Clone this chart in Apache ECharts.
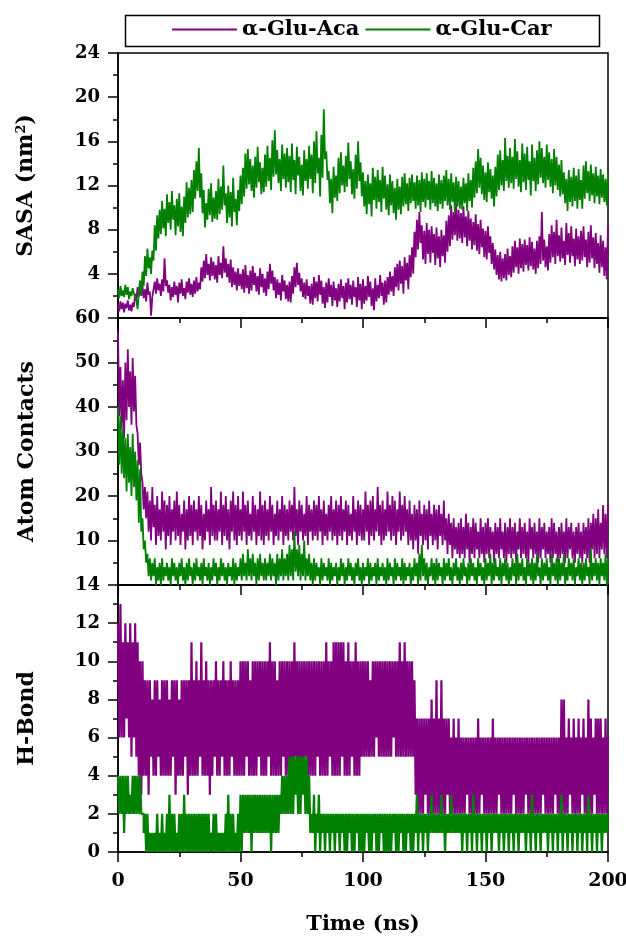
<!DOCTYPE html>
<html>
<head>
<meta charset="utf-8">
<title>SASA / Atom Contacts / H-Bond</title>
<script src="https://cdn.jsdelivr.net/npm/echarts@6/dist/echarts.min.js"></script>
<style>
  html, body { margin: 0; padding: 0; background: #fff; }
  #chart { width: 626px; height: 937px; }
</style>
</head>
<body>
<div id="chart"></div>
<script>
// sampled every 0.5 ns, 0..200 ns
const TIME_MAX = 200;

const seriesNames = ["α-Glu-Aca", "α-Glu-Car"];

const sasaAca = [
  1.2,0.6,1.5,0.8,1.4,0.5,1.3,0.9,1.6,0.7,1.2,0.6,1.4,1.0,2.2,1.6,2.8,1.9,3.1,2.0,
  2.9,1.8,2.6,1.5,3.2,2.1,2.4,0.2,1.9,2.6,3.3,2.2,3.6,2.5,3.1,2.0,3.5,2.4,5.4,2.9,
  3.4,2.3,3.0,1.6,2.8,1.9,3.3,2.1,2.9,1.4,3.2,2.2,3.5,2.0,2.7,1.7,3.3,2.3,3.6,2.1,
  3.1,1.9,3.4,2.2,3.7,2.4,3.2,2.6,4.6,3.3,5.2,3.6,5.8,3.9,4.9,3.4,5.5,3.8,5.1,3.5,
  4.8,3.2,5.6,3.9,5.0,3.6,6.5,4.1,5.4,3.7,4.9,3.2,5.3,2.8,4.6,3.0,4.2,2.5,4.5,2.9,
  4.0,2.6,4.4,2.3,4.8,2.7,3.9,2.2,4.3,2.5,4.7,3.0,4.1,2.4,3.8,2.1,4.5,2.8,4.0,2.3,
  3.6,2.0,4.2,2.6,4.9,3.1,4.3,2.5,3.7,1.8,3.5,2.1,3.2,1.6,3.9,2.4,3.4,1.7,3.0,1.5,
  3.3,1.4,3.8,2.2,4.6,2.8,5.0,3.0,4.1,2.4,3.6,1.9,3.2,1.7,3.5,2.0,2.9,1.3,3.1,1.2,
  3.7,1.8,3.3,1.5,3.9,2.1,3.4,1.3,2.8,0.9,3.2,1.4,3.6,1.9,3.0,1.1,3.3,1.6,2.7,1.0,
  3.1,1.5,3.5,1.8,2.9,0.8,3.2,1.4,3.6,1.7,3.0,1.2,3.4,1.9,2.8,1.0,3.7,1.6,3.1,0.8,
  3.5,1.3,2.9,1.6,3.8,1.9,3.3,1.1,2.7,0.7,3.6,1.5,3.0,1.8,3.9,2.0,3.2,1.2,3.4,1.4,
  3.7,2.1,4.2,2.4,3.8,2.0,4.6,2.8,4.9,2.5,5.2,3.1,4.7,2.2,5.5,3.4,5.0,2.6,5.7,3.7,
  6.4,4.0,7.8,5.5,8.9,6.2,9.6,6.8,8.4,5.3,7.9,4.9,8.6,5.8,8.0,5.0,8.3,5.9,7.6,4.8,
  8.2,5.4,7.4,4.6,8.0,5.6,7.5,5.0,8.8,6.0,9.3,6.5,10.2,7.1,9.6,7.5,10.4,7.0,9.8,7.2,
  9.5,6.8,10.1,7.3,9.2,6.5,9.7,7.0,9.0,6.2,8.7,6.6,9.4,6.1,8.5,5.8,8.9,6.4,8.1,5.5,
  7.9,5.3,8.3,5.9,7.4,4.9,6.8,4.4,6.2,3.9,5.7,3.5,6.0,3.3,5.4,3.6,5.8,3.4,6.3,3.9,
  5.6,3.7,6.5,4.1,7.0,4.6,6.4,4.0,7.2,4.5,6.7,4.2,7.1,4.8,6.6,4.3,7.3,4.7,6.9,4.4,
  6.3,4.0,7.0,4.5,7.4,4.9,9.6,5.2,7.1,4.6,6.5,4.3,7.6,5.0,8.4,5.5,7.8,4.9,8.9,5.6,
  7.5,5.1,8.2,5.4,7.0,4.8,8.6,5.7,7.7,5.0,8.3,5.6,7.2,4.7,8.1,5.3,7.4,4.9,7.9,5.2,
  8.3,5.5,7.1,4.6,7.8,5.0,8.4,5.4,7.3,4.5,7.7,4.9,6.8,4.1,7.5,4.6,7.0,3.8,6.4,3.5,
  8.3
];

const sasaCar = [
  2.6,1.8,2.9,2.0,2.5,1.9,3.0,2.1,2.8,1.7,2.4,2.0,2.7,2.2,2.3,1.6,0.8,2.4,3.4,2.1,
  4.2,2.9,5.6,3.8,6.3,4.5,5.5,4.0,6.1,5.2,8.4,6.1,9.3,7.2,9.8,7.6,10.6,8.1,9.9,7.4,
  11.2,8.6,10.5,8.0,11.5,8.9,10.2,7.5,10.8,8.3,11.3,7.8,10.1,7.4,11.0,8.6,12.3,9.1,11.8,9.4,
  12.5,9.6,13.4,10.8,14.2,11.5,15.4,10.9,13.1,9.5,11.6,8.2,10.4,8.9,11.7,9.3,12.2,8.7,10.9,9.0,
  11.5,8.9,12.6,9.4,11.9,9.8,13.8,10.2,11.3,8.6,12.0,9.1,11.4,8.3,12.7,9.6,10.8,8.4,11.6,9.7,
  12.9,10.3,13.6,11.0,14.9,11.7,15.3,12.1,14.4,11.5,13.8,10.9,14.6,11.8,15.5,12.3,14.1,11.2,13.6,11.4,
  14.8,11.9,15.6,12.4,14.5,11.6,16.1,12.8,17.0,13.0,15.2,12.2,14.4,11.5,15.7,12.6,14.9,11.8,15.4,12.3,
  14.7,11.4,15.8,12.5,14.3,11.2,15.5,12.9,14.6,11.5,13.9,11.1,15.2,12.4,14.4,11.7,15.6,12.6,14.8,11.3,
  16.0,12.2,16.9,13.1,14.5,11.0,16.6,12.7,18.9,14.4,15.1,12.5,13.3,10.4,12.6,9.5,13.7,10.9,12.9,10.6,
  14.5,11.3,15.0,12.0,13.8,11.4,14.7,11.9,15.9,12.6,14.2,11.2,13.5,10.8,14.8,11.7,16.0,12.4,14.1,11.0,
  13.2,10.1,12.4,9.4,13.0,10.3,12.2,9.2,13.6,10.7,12.8,9.9,13.4,10.5,12.5,9.6,13.7,10.8,12.9,9.8,
  12.1,9.3,13.0,10.2,12.4,9.5,11.8,8.9,12.6,9.8,11.9,9.4,12.8,10.1,13.1,10.3,12.2,9.7,12.7,10.4,
  13.0,10.6,12.3,9.9,12.9,10.2,12.5,9.6,13.2,10.5,12.6,10.0,13.1,10.7,12.4,9.8,13.3,10.4,12.7,10.1,
  12.2,9.7,13.0,10.3,12.5,9.9,12.9,10.6,13.4,10.2,12.6,9.8,13.1,10.5,12.3,9.6,12.8,10.1,12.4,9.9,
  11.9,9.8,12.7,10.4,12.2,9.7,13.1,10.6,12.5,10.0,13.6,10.9,14.2,11.3,15.3,11.8,14.5,11.2,13.8,10.7,
  13.2,10.5,14.1,11.4,13.5,10.8,12.9,10.1,13.7,11.0,14.8,11.6,15.2,12.0,14.3,11.5,16.3,12.4,14.7,11.8,
  15.4,12.2,14.6,11.7,16.2,12.6,15.1,11.9,14.3,11.4,15.8,12.3,14.9,11.6,15.5,12.5,14.2,11.1,15.7,12.4,
  14.5,11.5,15.2,12.1,16.0,12.7,15.4,12.2,14.6,11.8,15.7,12.5,15.0,11.9,14.4,11.3,15.3,12.0,14.6,11.6,
  13.9,11.0,14.3,11.2,13.2,10.4,12.6,9.7,13.4,10.5,12.8,10.1,13.6,10.6,12.9,9.9,13.5,10.7,12.5,9.9,
  13.8,10.8,14.2,11.3,13.3,10.6,13.9,11.1,13.1,10.4,13.7,11.0,12.9,10.3,13.5,10.9,13.0,10.5,12.6,10.2,
  13.2
];

const contactAca = [
  57,38,49,35,46,33,50,37,53,40,48,36,51,39,47,36,34,27,32,25,
  23,17,22,15,21,12,19,10,22,13,18,9,20,11,17,10,21,12,19,8,
  18,11,20,9,17,12,19,10,21,11,18,9,16,12,19,8,17,10,20,11,
  18,9,19,12,17,10,20,11,18,8,16,10,19,12,17,9,22,11,18,10,
  19,10,17,12,21,9,18,11,20,10,17,8,19,12,21,10,18,9,20,11,
  17,10,21,12,18,9,19,11,16,10,20,12,18,9,17,11,21,10,18,9,
  19,11,17,10,20,12,18,9,16,11,19,10,17,12,20,9,18,11,17,10,
  19,12,18,10,22,11,17,9,19,12,18,10,16,11,20,9,18,12,17,10,
  19,11,18,10,20,12,17,9,19,11,16,10,18,12,20,10,17,11,19,9,
  18,11,20,10,17,12,19,9,18,11,16,10,20,12,17,9,19,11,18,10,
  17,10,21,12,18,9,19,11,20,10,17,12,22,11,18,9,19,10,17,11,
  21,12,18,10,20,11,19,9,17,12,21,10,18,11,20,12,17,9,19,10,
  16,8,18,10,17,7,19,11,16,9,18,10,17,8,19,11,16,9,18,10,
  17,8,18,11,16,9,19,10,15,7,16,9,14,6,15,8,13,7,14,6,
  15,7,13,6,16,8,14,5,13,7,15,6,14,8,12,6,15,7,13,5,
  14,7,15,6,13,8,12,5,14,7,13,6,15,8,12,6,14,5,13,7,
  15,6,13,7,14,5,12,8,15,6,13,7,14,6,12,5,15,8,13,6,
  14,7,12,5,15,6,13,8,14,6,12,7,13,5,15,6,14,7,12,5,
  13,6,14,7,12,5,15,6,13,8,14,6,12,5,13,7,14,6,12,5,
  14,7,13,6,15,5,14,8,16,6,15,7,17,6,14,8,18,7,16,6,
  18
];

const contactCar = [
  40,27,38,25,35,24,33,21,34,23,31,20,34,22,30,19,28,14,26,12,
  15,8,10,5,7,2,6,1,5,2,6,0,4,1,5,0,6,1,4,2,
  5,1,4,0,6,2,5,1,4,0,5,2,6,1,4,0,5,1,6,2,
  4,0,5,1,6,2,4,1,5,0,6,2,4,1,5,0,4,1,6,2,
  5,0,4,1,6,2,5,1,4,0,5,2,4,1,6,0,5,1,4,2,
  6,1,7,2,5,1,8,2,6,1,7,2,5,0,6,1,7,2,5,1,
  6,1,5,2,7,1,6,2,5,0,7,1,6,2,8,1,6,2,7,1,
  9,2,8,1,12,3,8,2,9,1,7,2,10,1,6,2,7,1,5,0,
  6,1,5,2,4,0,6,1,5,2,4,1,6,0,5,1,4,2,5,0,
  4,1,6,2,5,0,4,1,6,2,5,1,4,0,5,2,6,1,4,0,
  5,1,4,2,6,0,5,1,4,2,5,0,6,1,4,2,5,1,4,0,
  6,1,5,2,4,0,6,1,5,2,4,1,6,0,5,1,4,2,5,0,
  4,1,6,2,5,0,7,1,9,2,6,1,5,0,4,2,6,1,5,0,
  6,1,5,2,4,0,6,1,5,2,6,1,4,0,5,2,6,1,4,0,
  5,1,6,2,4,0,5,1,6,2,5,1,4,0,6,2,5,1,4,0,
  6,1,5,2,7,0,5,1,6,2,4,1,6,0,5,2,6,1,5,0,
  4,1,6,2,5,0,7,1,5,2,6,1,4,0,6,2,5,1,6,0,
  5,1,7,2,4,0,6,1,5,2,6,1,4,0,7,2,5,1,6,0,
  6,1,5,2,7,0,4,1,6,2,5,1,6,0,4,2,6,1,5,0,
  5,1,6,2,4,0,8,1,5,2,6,1,5,0,6,2,5,1,7,0,
  6
];

const hbondAca = [
  12,6,13,6,11,6,12,7,11,6,12,5,11,6,12,5,11,4,10,3,
  10,4,9,4,9,3,9,5,8,4,9,4,9,5,8,4,9,4,9,4,
  9,4,8,4,9,5,9,3,9,4,8,4,9,4,9,5,9,3,9,4,
  11,4,9,4,10,4,9,5,11,4,9,4,10,4,9,3,9,4,9,5,
  10,4,9,4,9,5,10,4,9,4,9,4,10,5,9,4,9,4,9,4,
  10,4,10,4,10,5,10,4,9,4,10,4,10,4,10,5,10,4,10,4,
  10,4,10,5,11,4,10,4,10,4,9,4,10,4,10,5,10,4,10,4,
  10,4,10,4,11,5,10,4,10,4,10,4,10,5,10,4,10,4,10,4,
  10,4,10,5,10,4,10,4,10,4,11,4,10,5,10,4,11,4,11,4,
  11,4,11,5,11,4,10,4,11,4,10,5,10,4,11,4,10,4,10,5,
  10,5,10,5,10,5,9,5,10,5,10,6,10,5,10,5,10,5,10,5,
  10,5,10,5,10,6,10,5,10,5,11,5,10,5,11,5,10,5,10,5,
  10,5,9,3,7,2,7,2,7,2,7,3,7,2,7,2,8,2,7,2,
  9,2,7,2,9,2,7,2,7,3,7,2,6,2,7,2,6,2,7,2,
  6,2,6,2,6,3,6,2,6,2,6,2,6,2,7,2,6,3,6,2,
  6,2,6,2,6,2,7,2,6,2,6,3,6,2,6,2,6,2,6,2,
  6,2,6,3,6,2,6,2,6,2,6,2,6,3,6,2,6,2,6,2,
  6,2,6,2,6,2,6,3,6,2,6,2,6,2,6,2,6,3,6,2,
  6,2,8,2,8,2,6,2,7,3,6,2,7,2,6,2,7,2,6,3,
  7,2,6,2,8,2,7,2,6,3,7,2,7,2,7,2,6,2,7,2,
  6
];

const hbondCar = [
  4,2,4,2,4,1,4,2,4,2,3,2,4,2,4,2,4,2,4,2,
  2,1,2,0,2,0,1,0,1,0,1,0,2,0,1,0,2,0,1,0,
  2,0,3,0,2,0,2,0,1,0,2,0,2,0,3,0,2,0,2,0,
  2,0,2,0,2,0,2,0,2,0,2,0,2,0,2,0,1,0,2,0,
  2,0,1,0,1,0,1,0,2,0,3,0,2,0,2,0,1,0,2,0,
  3,0,3,1,3,1,3,1,3,0,3,1,3,1,3,1,3,1,3,1,
  3,1,3,1,3,0,3,1,3,1,3,1,3,2,4,2,4,2,4,2,
  5,2,5,2,5,3,5,2,5,2,5,3,5,2,5,2,4,1,2,1,
  3,0,2,1,3,0,2,1,2,0,2,1,2,0,2,1,2,0,2,1,
  2,0,2,1,2,0,2,0,2,1,2,0,2,0,2,1,2,0,2,0,
  2,0,2,1,2,0,2,0,2,1,2,0,2,0,2,1,2,0,2,0,
  2,0,2,0,2,1,2,0,2,0,2,1,2,0,2,0,2,1,2,0,
  2,0,2,1,3,0,2,1,2,0,2,1,2,0,2,1,3,1,2,1,
  2,1,2,1,3,1,2,0,2,1,2,1,3,1,2,1,2,1,2,1,
  2,0,2,1,2,0,2,1,2,0,3,1,2,0,2,1,2,0,2,1,
  2,0,2,1,2,0,2,1,2,1,2,0,2,1,2,0,2,1,2,0,
  2,1,2,0,2,1,2,0,2,1,2,1,2,0,2,1,2,0,3,1,
  2,0,2,1,2,0,2,1,2,1,2,0,2,1,2,0,2,1,2,0,
  2,1,3,0,2,1,2,0,2,1,2,0,2,1,2,0,2,1,2,0,
  2,1,2,0,3,1,2,0,2,1,2,0,2,1,2,0,2,1,2,1,
  2
];

const ACA_COLOR = "#800080";
const CAR_COLOR = "#008000";
const FONT = "DejaVu Serif";

function withTime(values) {
    const step = TIME_MAX / (values.length - 1);
    return values.map((v, i) => [i * step, v]);
}

function xAxisFor(gridIndex, showLabels) {
    return {
        type: "value",
        gridIndex: gridIndex,
        min: 0,
        max: TIME_MAX,
        interval: 50,
        name: showLabels ? "Time (ns)" : "",
        nameLocation: "middle",
        nameGap: 62,
        nameTextStyle: { fontFamily: FONT, fontWeight: "bold", fontSize: 21, color: "#000" },
        axisLine: { lineStyle: { color: "#000", width: 1.5 } },
        axisTick: { inside: false, length: 10, lineStyle: { color: "#000", width: 1.5 } },
        minorTick: { show: true, splitNumber: 2, length: 5, lineStyle: { color: "#000", width: 1.5 } },
        axisLabel: {
            show: showLabels,
            margin: 20,
            fontFamily: FONT, fontWeight: "bold", fontSize: 19, color: "#000",
        },
        splitLine: { show: false },
    };
}

function yAxisFor(gridIndex, max, interval, name, hideZero, rich) {
    return {
        type: "value",
        gridIndex: gridIndex,
        min: 0,
        max: max,
        interval: interval,
        name: name,
        nameLocation: "middle",
        nameGap: 80,
        nameTextStyle: {
            fontFamily: FONT, fontWeight: "bold", fontSize: 22, color: "#000",
            rich: rich,
        },
        axisLine: { lineStyle: { color: "#000", width: 1.5 } },
        axisTick: { inside: false, length: 10, lineStyle: { color: "#000", width: 1.5 } },
        minorTick: { show: true, splitNumber: 2, length: 5, lineStyle: { color: "#000", width: 1.5 } },
        axisLabel: {
            margin: 18,
            fontFamily: FONT, fontWeight: "bold", fontSize: 18, color: "#000",
            formatter: (v) => (hideZero && v === 0) ? "" : String(v),
        },
        splitLine: { show: false },
    };
}

// H-Bond counts are whole numbers, drawn as steps and a bit heavier
function lineSeries(name, values, gridIndex, color, step) {
    return {
        name: name,
        type: "line",
        xAxisIndex: gridIndex,
        yAxisIndex: gridIndex,
        data: withTime(values),
        step: step ? "end" : false,
        symbol: "none",
        showSymbol: false,
        color: color,
        lineStyle: { color: color, width: step ? 2.2 : 1.8 },
        z: color === CAR_COLOR ? 3 : 2,
    };
}

const sasaRich = {
    b: { fontFamily: FONT, fontWeight: "bold", fontSize: 22, color: "#000" },
    sup: { fontFamily: FONT, fontWeight: "bold", fontSize: 13, color: "#000", verticalAlign: "top", padding: [0, 0, 10, 0] },
};

const chart = echarts.init(document.getElementById("chart"), null, { renderer: "canvas" });

const gridBase = { left: 118, right: 18, show: true, borderColor: "#000", borderWidth: 1.5, outerBoundsMode: "none", containLabel: false };

chart.setOption({
    animation: false,
    backgroundColor: "#fff",
    graphic: [
        {
            type: "rect",
            left: 123, top: 13,
            shape: { width: 474, height: 31 },
            style: { fill: "none", stroke: "#000", lineWidth: 1.5 },
        },
    ],
    legend: {
        data: seriesNames,
        left: 172,
        top: 19,
        padding: 0,
        icon: "rect",
        itemWidth: 65,
        itemHeight: 2,
        itemGap: 6,
        textStyle: { fontFamily: FONT, fontWeight: "bold", fontSize: 21, color: "#000" },
    },
    grid: [
        Object.assign({ top: 53, height: 265 }, gridBase),
        Object.assign({ top: 318, height: 267 }, gridBase),
        Object.assign({ top: 585, height: 267 }, gridBase),
    ],
    xAxis: [
        xAxisFor(0, false),
        xAxisFor(1, false),
        xAxisFor(2, true),
    ],
    yAxis: [
        yAxisFor(0, 24, 4, "{b|SASA (nm}{sup|2}{b|)}", true, sasaRich),
        yAxisFor(1, 60, 10, "Atom Contacts", true),
        yAxisFor(2, 14, 2, "H-Bond", false),
    ],
    series: [
        lineSeries(seriesNames[0], sasaAca, 0, ACA_COLOR, false),
        lineSeries(seriesNames[1], sasaCar, 0, CAR_COLOR, false),
        lineSeries(seriesNames[0], contactAca, 1, ACA_COLOR, false),
        lineSeries(seriesNames[1], contactCar, 1, CAR_COLOR, false),
        lineSeries(seriesNames[0], hbondAca, 2, ACA_COLOR, true),
        lineSeries(seriesNames[1], hbondCar, 2, CAR_COLOR, true),
    ],
});

window.onresize = () => {
    chart.resize();
};
</script>
</body>
</html>
